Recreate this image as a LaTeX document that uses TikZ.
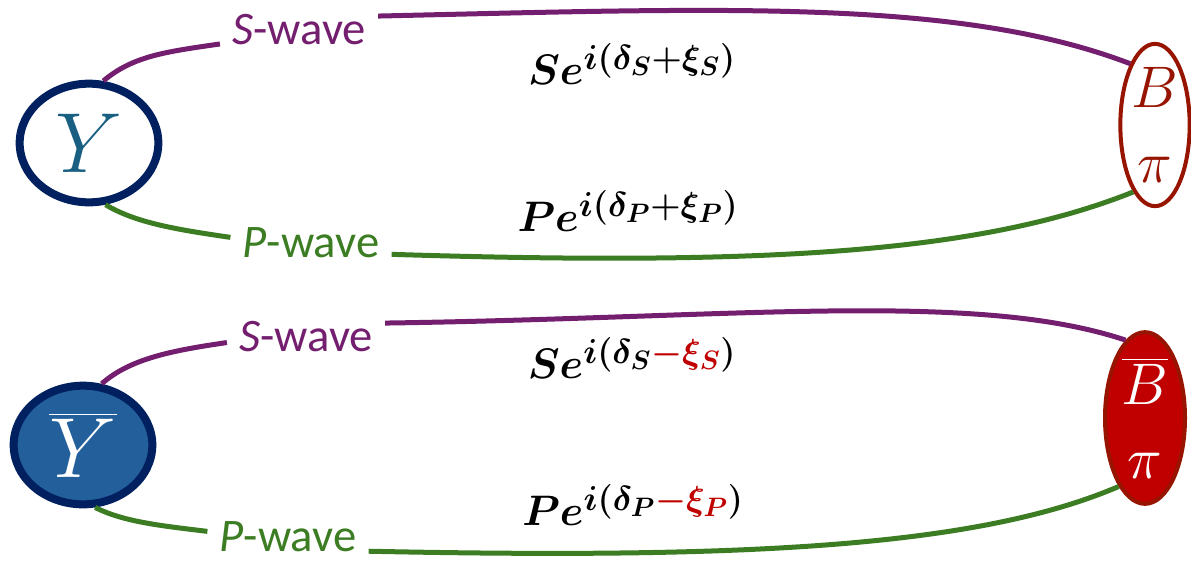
\RequirePackage{fix-cm}
\documentclass[tikz,border=0pt]{standalone}
\usepackage{amsmath,bm}
\usepackage{fontspec}
\newfontfamily\wavefont{Carlito}
\DeclareMathSizes{32}{32}{26}{20}
\usetikzlibrary{shapes.geometric}
\definecolor{waveS}{RGB}{115,30,110}
\definecolor{waveP}{RGB}{60,125,35}
\definecolor{navyY}{RGB}{0,32,96}
\definecolor{tealY}{RGB}{25,95,130}
\definecolor{blueY}{RGB}{35,95,155}
\definecolor{darkB}{RGB}{150,20,0}
\definecolor{redB}{RGB}{192,0,0}

\begin{document}
\begin{tikzpicture}[x=0.75pt, y=-0.75pt,
  meson/.style={ellipse, draw=navyY, line width=6pt, inner sep=0pt,
    minimum width=104pt, minimum height=89pt,
    font=\fontsize{64}{64}\selectfont},
  final/.style={ellipse, draw=darkB, line width=3pt, inner sep=0pt,
    align=center, font=\fontsize{44}{56}\selectfont},
  wlab/.style={font=\wavefont\fontsize{35}{40}\selectfont, text=#1,
    inner xsep=9pt, inner ysep=2pt},
  amp/.style={font=\fontsize{32}{40}\selectfont, inner sep=0pt},
  wave/.style={draw=#1, line width=3.75pt},
]
\useasboundingbox (0,0) rectangle (1191,562);

% particle states
\node[meson, text=tealY] (Y) at (89,143) {$Y$};
\node[meson, fill=blueY, text=white] (Yb) at (83,445) {$\overline{Y}$};
\node[final, text=darkB, minimum width=52pt, minimum height=120pt] (B1) at (1155,125) {$B$\\$\pi$};
\node[final, fill=redB, text=white, minimum width=60pt, minimum height=121pt] (B2) at (1145,418) {$\overline{B}$\\$\pi$};

% wave labels
\node[wlab=waveS] (sw1) at (299,30) {{\itshape S}-wave};
\node[wlab=waveP] (pw1) at (311,243) {{\itshape P}-wave};
\node[wlab=waveS] (sw2) at (306,337) {{\itshape S}-wave};
\node[wlab=waveP] (pw2) at (288,537) {{\itshape P}-wave};

% amplitudes
\node[amp] (fS1) at (632,64) {$\bm{Se^{i(\delta_S+\xi_S)}}$};
\node[amp] (fP1) at (628,211) {$\bm{Pe^{i(\delta_P+\xi_P)}}$};
\node[amp] (fS2) at (632,358) {$\bm{Se^{i(\delta_S\textcolor{redB}{-\xi_S})}}$};
\node[amp] (fP2) at (633,505) {$\bm{Pe^{i(\delta_P\textcolor{redB}{-\xi_P})}}$};

% Y -> B pi
\draw[wave=waveS] (Y.77) .. controls +(30,-25) and +(-55,8) .. (sw1.190);
\draw[wave=waveS] (sw1.10) .. controls +(350,-8) and +(-170,-65) .. (B1.112);
\draw[wave=waveP] (Y.-75) .. controls +(30,18) and +(-55,-8) .. (pw1.176);
\draw[wave=waveP] (pw1.-8) .. controls +(380,12) and +(-150,60) .. (B1.252);

% Ybar -> Bbar pi
\draw[wave=waveS] (Yb.73) .. controls +(28,-25) and +(-55,8) .. (sw2.184);
\draw[wave=waveS] (sw2.10) .. controls +(350,-5) and +(-150,-50) .. (B2.104);
\draw[wave=waveP] (Yb.-79) .. controls +(28,14) and +(-50,-6) .. (pw2.176);
\draw[wave=waveP] (pw2.-10) .. controls +(380,8) and +(-140,60) .. (B2.249);

\end{tikzpicture}
\end{document}
